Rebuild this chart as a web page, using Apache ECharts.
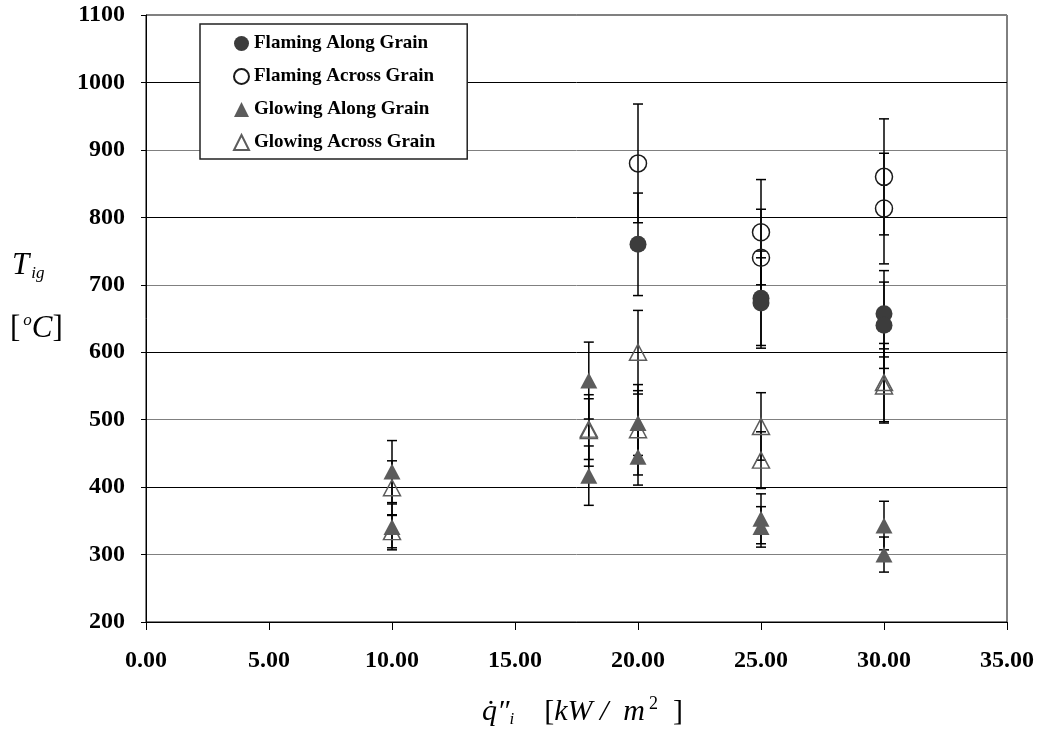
<!DOCTYPE html>
<html>
<head>
<meta charset="utf-8">
<script src="https://cdn.jsdelivr.net/npm/echarts@6/dist/echarts.min.js"></script>
<style>
html, body { margin: 0; padding: 0; background: #fff; }
#chart { width: 1042px; height: 736px; }
</style>
</head>
<body>
<div id="chart"></div>
<script>
// heat flux [kW/m2], ignition temperature [C], error (+/-)
var xFA = [20, 25, 25, 30, 30];
var yFA = [760, 680, 673, 657, 640];
var eFA = [76, 70, 67, 64, 64];

var xFX = [20, 25, 25, 30, 30];
var yFX = [880, 778, 740, 860, 813];
var eFX = [88, 78, 72, 86, 82];

var xGA = [10, 10, 18, 18, 20, 20, 25, 25, 30, 30];
var yGA = [423, 341, 558, 417, 495, 445, 353, 341, 343, 300];
var eGA = [46, 34, 57, 44, 48, 42, 37, 30, 36, 26];

var xGX = [10, 10, 18, 18, 20, 20, 25, 25, 30, 30];
var yGX = [399, 334, 486, 484, 600, 485, 490, 440, 555, 550];
var eGX = [40, 24, 45, 53, 62, 67, 50, 42, 58, 55];

var names = ['Flaming Along Grain', 'Flaming Across Grain', 'Glowing Along Grain', 'Glowing Across Grain'];

function pts(xs, ys){
    var d = [];
    for (var i = 0; i < xs.length; i++) d.push([xs[i], ys[i]]);
    return d;
}

var errData = [];
[[xFA, yFA, eFA], [xFX, yFX, eFX], [xGA, yGA, eGA], [xGX, yGX, eGX]].forEach(function(g){
    for (var i = 0; i < g[0].length; i++) {
        errData.push([g[0][i], g[1][i] - g[2][i], g[1][i] + g[2][i]]);
    }
});

var serif = 'Liberation Serif';

function draw_chart(id){
    var myChart = echarts.init(document.getElementById(id));
    var option = {
        animation: false,
        backgroundColor: '#fff',
        grid: {
            left: 146, right: 35, top: 15, bottom: 114,
            show: true, borderColor: '#000', borderWidth: 1
        },
        legend: {
            orient: 'vertical',
            left: 200, top: 24,
            data: names,
            backgroundColor: '#fff',
            borderColor: '#222',
            borderWidth: 1.5,
            padding: [10, 32, 7, 33],
            itemGap: 14,
            itemWidth: 15,
            itemHeight: 15,
            textStyle: { fontFamily: serif, fontWeight: 'bold', fontSize: 19, color: '#000' }
        },
        xAxis: {
            type: 'value',
            min: 0, max: 35, interval: 5,
            axisLine: { lineStyle: { color: '#000', width: 1 } },
            axisTick: { show: true, length: 8, lineStyle: { color: '#000' } },
            splitLine: { show: false },
            axisLabel: {
                margin: 27,
                fontFamily: serif, fontWeight: 'bold', fontSize: 24, color: '#000',
                formatter: function(v){ return v.toFixed(2); }
            }
        },
        yAxis: {
            type: 'value',
            min: 200, max: 1100, interval: 100,
            axisLine: { show: true, lineStyle: { color: '#000', width: 1 } },
            axisTick: { show: true, length: 5, lineStyle: { color: '#000' } },
            splitLine: { show: true, lineStyle: { color: ['#000', '#808080'], width: 1 } },
            axisLabel: {
                margin: 21,
                fontFamily: serif, fontWeight: 'bold', fontSize: 24, color: '#000',
                formatter: function(v){ return String(v); }
            }
        },
        graphic: [
            {
                type: 'text', left: 12, top: 250,
                style: {
                    text: '{t|T}{s|ig}',
                    rich: {
                        t: { fontFamily: serif, fontStyle: 'italic', fontSize: 31, fill: '#000' },
                        s: { fontFamily: serif, fontStyle: 'italic', fontSize: 17, fill: '#000', padding: [16, 0, 0, 2] }
                    }
                }
            },
            {
                type: 'text', left: 10, top: 312,
                style: {
                    text: '{b|[}{o|o}{c|C}{b|]}',
                    rich: {
                        b: { fontFamily: serif, fontSize: 31, fill: '#000' },
                        o: { fontFamily: serif, fontStyle: 'italic', fontSize: 17, fill: '#000', padding: [0, 0, 16, 3] },
                        c: { fontFamily: serif, fontStyle: 'italic', fontSize: 31, fill: '#000' }
                    }
                }
            },
            {
                type: 'text', left: 482, top: 695,
                style: {
                    text: '{q|q\u0307\u2033}{s|i}{q|    }{b|[}{q|kW /  m}{p|2}{b|  ]}',
                    rich: {
                        q: { fontFamily: serif, fontStyle: 'italic', fontSize: 30, fill: '#000' },
                        s: { fontFamily: serif, fontStyle: 'italic', fontSize: 17, fill: '#000', padding: [16, 0, 0, 0] },
                        b: { fontFamily: serif, fontSize: 30, fill: '#000' },
                        p: { fontFamily: serif, fontSize: 18, fill: '#000', padding: [0, 0, 16, 4] }
                    }
                }
            }
        ],
        series: [
            {
                name: 'err',
                type: 'custom',
                z: 1,
                silent: true,
                data: errData,
                renderItem: function(params, api){
                    var x = api.value(0);
                    var lo = api.coord([x, api.value(1)]);
                    var hi = api.coord([x, api.value(2)]);
                    var w = 5;
                    var st = { stroke: '#000', lineWidth: 1.5 };
                    return {
                        type: 'group',
                        children: [
                            { type: 'line', shape: { x1: lo[0], y1: lo[1], x2: hi[0], y2: hi[1] }, style: st },
                            { type: 'line', shape: { x1: lo[0] - w, y1: lo[1], x2: lo[0] + w, y2: lo[1] }, style: st },
                            { type: 'line', shape: { x1: hi[0] - w, y1: hi[1], x2: hi[0] + w, y2: hi[1] }, style: st }
                        ]
                    };
                }
            },
            {
                name: names[0], type: 'scatter', z: 3,
                symbol: 'circle', symbolSize: 17,
                itemStyle: { color: '#3c3c3c', opacity: 1 },
                data: pts(xFA, yFA)
            },
            {
                name: names[1], type: 'scatter', z: 3,
                symbol: 'circle', symbolSize: 17,
                itemStyle: { color: 'rgba(255,255,255,0)', borderColor: '#1a1a1a', borderWidth: 1.5, opacity: 1 },
                data: pts(xFX, yFX)
            },
            {
                name: names[2], type: 'scatter', z: 3,
                symbol: 'triangle', symbolSize: [17, 16],
                itemStyle: { color: '#5c5c5c', opacity: 1 },
                data: pts(xGA, yGA)
            },
            {
                name: names[3], type: 'scatter', z: 3,
                symbol: 'triangle', symbolSize: [17, 16],
                itemStyle: { color: 'rgba(255,255,255,0)', borderColor: '#5c5c5c', borderWidth: 1.5, opacity: 1 },
                data: pts(xGX, yGX)
            }
        ]
    };
    myChart.setOption(option);
}

draw_chart('chart');
</script>
</body>
</html>
